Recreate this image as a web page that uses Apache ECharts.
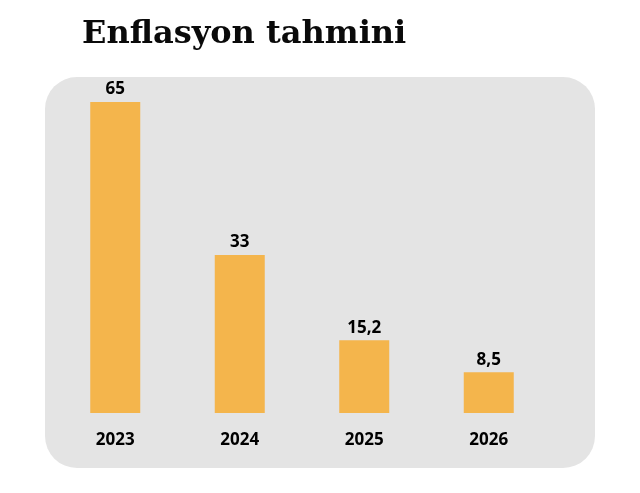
<!DOCTYPE html>
<html><head><meta charset="utf-8">
<script src="https://cdn.jsdelivr.net/npm/echarts@6/dist/echarts.min.js"></script>
<style>html,body{margin:0;padding:0;background:#fff}#c{width:640px;height:493px}</style>
</head><body><div id="c"></div>
<script>
const categories = ['2023', '2024', '2025', '2026'];
const values = [65, 33, 15.2, 8.5];
const valueLabels = ['65', '33', '15,2', '8,5'];

const chart = echarts.init(document.getElementById('c'));
chart.setOption({
  backgroundColor: '#ffffff',
  animation: false,
  title: {
    text: 'Enflasyon tahmini',
    left: 77, top: 14,
    textStyle: { fontFamily: 'DejaVu Serif', fontWeight: 'bold', fontSize: 32, color: '#0a0a0a' }
  },
  graphic: [{
    type: 'rect', z: -10,
    shape: { x: 45, y: 77, width: 550, height: 391, r: 32 },
    style: { fill: '#e4e4e4' }
  }],
  grid: { left: 53, right: 89, top: 102, bottom: 80 },
  xAxis: {
    type: 'category', data: categories,
    axisLine: { show: false }, axisTick: { show: false },
    axisLabel: { margin: 19, fontFamily: 'Open Sans', fontWeight: 'bold', fontSize: 17, color: '#000' }
  },
  yAxis: { type: 'value', min: 0, max: 65, show: false, splitLine: { show: false } },
  series: [{
    type: 'bar', data: values, barWidth: 50,
    itemStyle: { color: '#f4b54c' },
    label: {
      show: true, position: 'top', distance: 4,
      formatter: p => valueLabels[p.dataIndex],
      fontFamily: 'Open Sans', fontWeight: 'bold', fontSize: 17, color: '#000'
    }
  }]
});
</script></body></html>
